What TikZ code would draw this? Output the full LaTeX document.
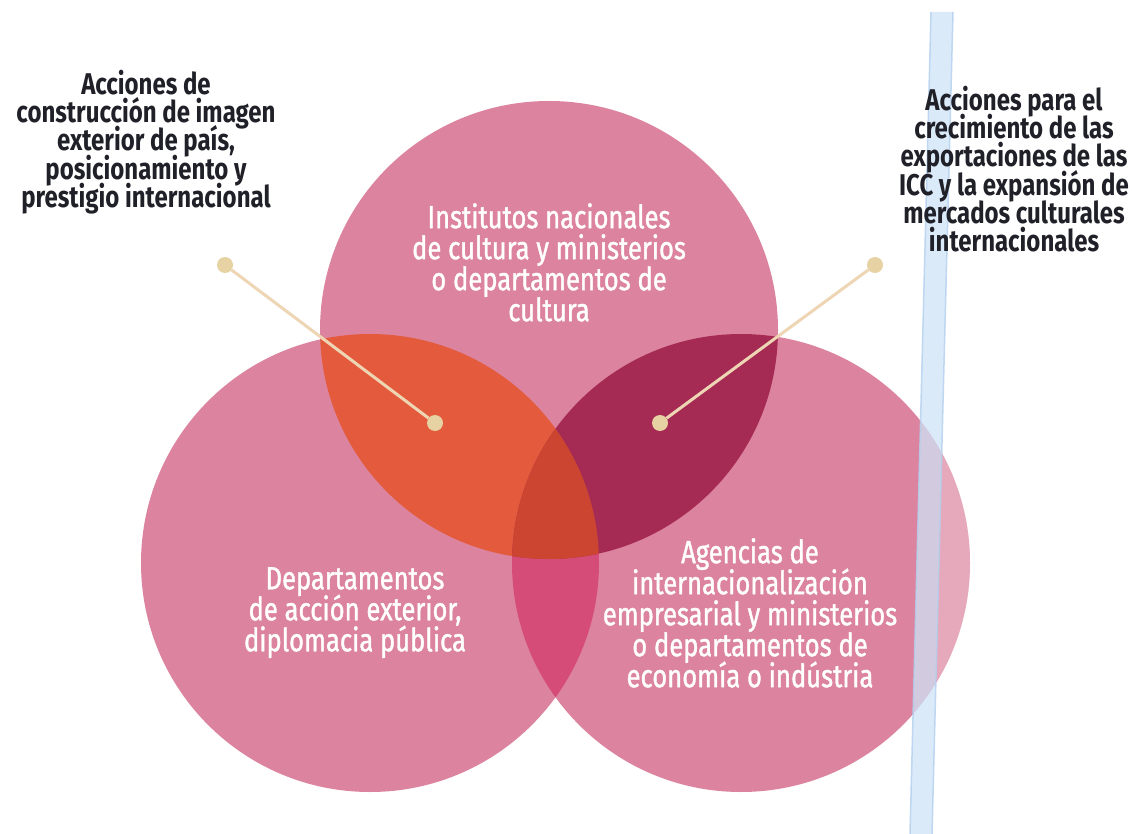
\documentclass[tikz,border=0pt]{standalone}
\usepackage{fontspec}
\setmainfont[FakeStretch=0.8]{Fira Sans}
\newfontfamily\whitefont[FakeStretch=0.8,FakeBold=1.2]{Fira Sans}
\AtBeginDocument{\lineskiplimit=-100pt\relax\lineskip=0pt\relax}
\definecolor{cpink}{HTML}{DC849F}
\definecolor{ctl}{HTML}{E35B3C}
\definecolor{ctr}{HTML}{A52B55}
\definecolor{cmid}{HTML}{CB4530}
\definecolor{clr}{HTML}{D54C78}
\definecolor{cdot}{HTML}{E6D2A2}
\definecolor{cline}{HTML}{EED6B4}
\definecolor{cbar}{HTML}{CFE4F7}
\definecolor{cbaredge}{HTML}{B3D0EF}
\definecolor{ctext}{HTML}{202028}
\begin{document}
\begin{tikzpicture}[x=1pt,y=-1pt,
  dot/.style={circle,fill=cdot,minimum size=16pt,inner sep=0pt},
  leader/.style={draw=cline,line width=3pt},
  outlabel/.style={align=center,inner sep=0pt,anchor=north,text=ctext,
     font=\bfseries\fontsize{30}{28.2}\selectfont},
  inlabel/.style={align=center,inner sep=0pt,anchor=north,text=white,
     font=\whitefont\fontsize{32}{31}\selectfont}]
\useasboundingbox (0,0) rectangle (1132,834);
\fill[white] (0,0) rectangle (1132,834);
% circles
\def\cT{(549,330) circle[radius=229pt]}
\def\cL{(370,563) circle[radius=229pt]}
\def\cR{(741,563) circle[radius=229pt]}
\fill[cpink] \cT; \fill[cpink] \cL; \fill[cpink] \cR;
\begin{scope}\clip \cL; \fill[clr] \cR; \end{scope}
\begin{scope}\clip \cT; \fill[ctl] \cL; \fill[ctr] \cR; \end{scope}
\begin{scope}\clip \cT; \clip \cL; \fill[cmid] \cR; \end{scope}
% faded part of right circle beyond the bar
\begin{scope}\clip \cR;
  \fill[white,opacity=0.3] (953,12) -- (1132,12) -- (1132,834) -- (932,834) -- cycle;
\end{scope}
% blue bar
\fill[cbar,opacity=0.75] (931,12) -- (953,12) -- (932,834) -- (910,834) -- cycle;
\draw[cbaredge,line width=1.5pt,opacity=0.8] (931,12) -- (910,834);
\draw[cbaredge,line width=1.5pt,opacity=0.8] (953,12) -- (932,834);
% leaders
\node[dot] (a1) at (225,265) {};
\node[dot] (a2) at (435,423) {};
\node[dot] (b1) at (875,265) {};
\node[dot] (b2) at (660,423) {};
\draw[leader] (a1) -- (a2);
\draw[leader] (b1) -- (b2);
% outside labels
\node[outlabel] (la) at (146,70) {Acciones de\\construcción de imagen\\exterior de país,\\posicionamiento y\\prestigio internacional};
\node[outlabel] (lb) at (1014,86) {Acciones para el\\crecimiento de las\\exportaciones de las\\ICC y la expansión de\\mercados culturales\\internacionales};
% inside labels
\node[inlabel] (tT) at (549,203) {Institutos nacionales\\de cultura y ministerios\\o departamentos de\\cultura};
\node[inlabel] (tL) at (355,567) {Departamentos\\de acción exterior,\\diplomacia pública};
\node[inlabel] (tR) at (750,538) {Agencias de\\internacionalización\\empresarial y ministerios\\o departamentos de\\economía o indústria};
\end{tikzpicture}
\end{document}
